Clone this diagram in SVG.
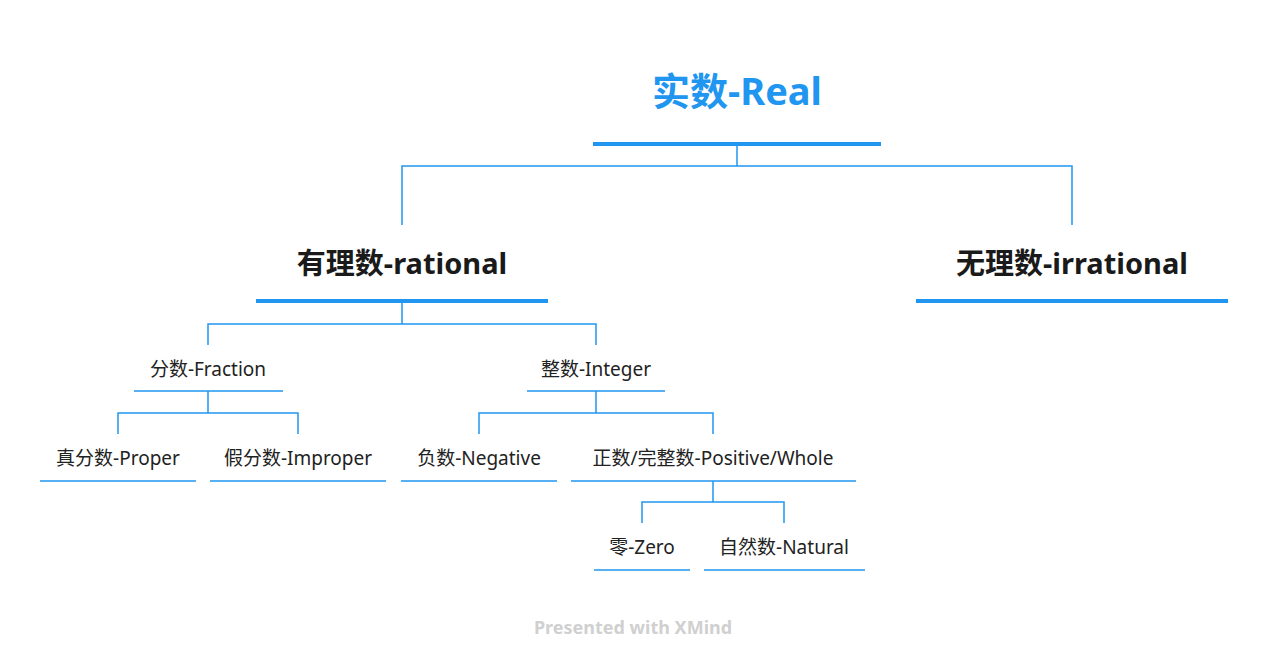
<svg xmlns="http://www.w3.org/2000/svg" width="1268" height="667" viewBox="0 0 1268 667">
<style>
text{font-family:"Noto Sans","Noto Sans CJK SC",sans-serif;text-anchor:middle}
.t0{font-size:38px;font-weight:bold;fill:#2196F0}
.t1{font-size:29px;font-weight:bold;fill:#1a1a1a}
.t2{font-size:19px;fill:#222}
.ul{stroke:#2196F0;fill:none}
.c{stroke:#2196F0;stroke-width:1.5;fill:none}
</style>
<rect width="1268" height="667" fill="#fff"/>
<g id="connectors">
<path class="c" d="M737 144V166M402 225V166H1072V225"/>
<path class="c" d="M402 301V324M208 345V324H596V345"/>
<path class="c" d="M208 391V413M118 434V413H298V434"/>
<path class="c" d="M596 391V413M479 434V413H713V434"/>
<path class="c" d="M713 481V502M642 523V502H784V523"/>
</g>
<g id="real"><text class="t0" x="737" y="105">实数-Real</text><line class="ul" stroke-width="4" x1="593" y1="144" x2="881" y2="144"/></g>
<g id="rational"><text class="t1" x="402" y="274">有理数-rational</text><line class="ul" stroke-width="4" x1="256" y1="301" x2="548" y2="301"/></g>
<g id="irrational"><text class="t1" x="1072" y="274">无理数-irrational</text><line class="ul" stroke-width="4" x1="916" y1="301" x2="1228" y2="301"/></g>
<g id="fraction"><text class="t2" x="208" y="376">分数-Fraction</text><line class="ul" stroke-width="1.5" x1="134" y1="391" x2="283" y2="391"/></g>
<g id="integer"><text class="t2" x="596" y="376">整数-Integer</text><line class="ul" stroke-width="1.5" x1="527" y1="391" x2="665" y2="391"/></g>
<g id="proper"><text class="t2" x="118" y="465">真分数-Proper</text><line class="ul" stroke-width="1.5" x1="40" y1="481" x2="196" y2="481"/></g>
<g id="improper"><text class="t2" x="298" y="465">假分数-Improper</text><line class="ul" stroke-width="1.5" x1="210" y1="481" x2="386" y2="481"/></g>
<g id="negative"><text class="t2" x="479" y="465">负数-Negative</text><line class="ul" stroke-width="1.5" x1="401" y1="481" x2="557" y2="481"/></g>
<g id="positive"><text class="t2" x="713" y="465">正数/完整数-Positive/Whole</text><line class="ul" stroke-width="1.5" x1="571" y1="481" x2="856" y2="481"/></g>
<g id="zero"><text class="t2" x="642" y="554">零-Zero</text><line class="ul" stroke-width="1.5" x1="594" y1="570" x2="690" y2="570"/></g>
<g id="natural"><text class="t2" x="784" y="554">自然数-Natural</text><line class="ul" stroke-width="1.5" x1="704" y1="570" x2="865" y2="570"/></g>
<text x="633" y="634" style="font-size:18px;font-weight:bold;fill:#d0d0d0">Presented with XMind</text>
</svg>
